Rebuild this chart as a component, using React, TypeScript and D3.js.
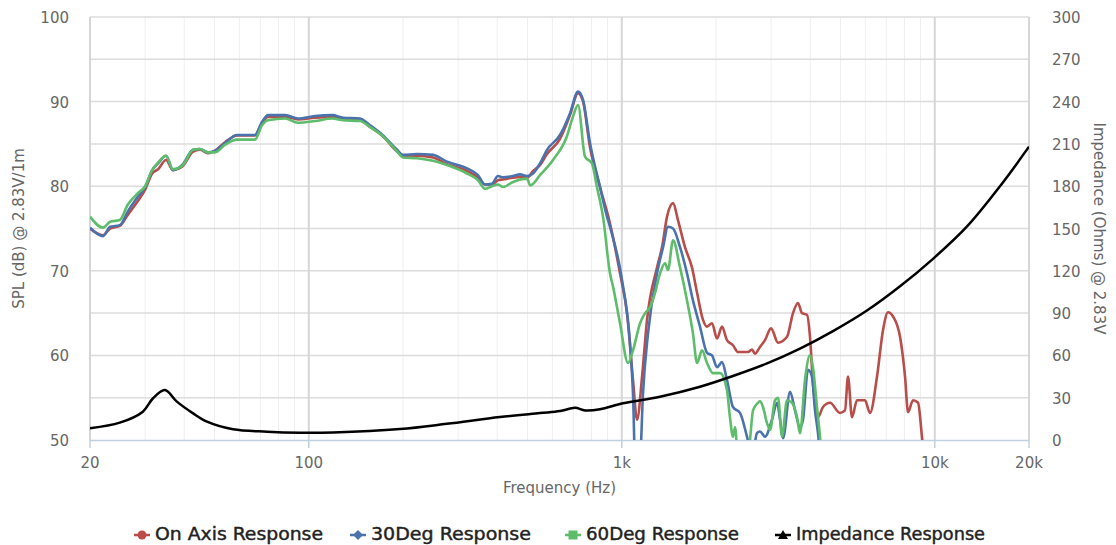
import { useEffect, useRef } from "react";
import * as d3 from "d3";

// [Hz, dB]
const onAxis: [number, number][] = [
  [20, 75.0], [22, 74.2], [23.2, 75.0], [24.9, 75.3], [26.4, 76.6], [28.5, 78.3],
  [30, 79.6], [31.6, 81.5], [33, 82.0], [35, 83.1], [36.8, 81.9], [39.4, 82.3],
  [42.7, 84.1], [44.9, 84.3], [47.6, 83.9], [50.2, 84.2], [54, 85.2], [59, 86.0],
  [67.3, 86.0], [70.9, 87.5], [74.1, 88.2], [84, 88.2], [92.4, 87.9], [104.7, 88.1],
  [118.7, 88.2], [128.7, 87.9], [145.8, 87.8], [156.9, 87.0], [172.7, 85.9],
  [191.4, 84.1], [200, 83.6], [221.7, 83.6], [249.4, 83.4], [276.4, 82.6],
  [320.4, 81.8], [347.2, 81.0], [365.6, 80.2], [384.9, 80.2], [402.4, 80.7],
  [417.4, 80.8], [449.2, 81.0], [473, 81.1], [498, 81.0], [520.5, 81.8], [548, 82.5],
  [577, 83.8], [634.8, 85.6], [683.2, 88.4], [724.8, 91.0], [752, 90.0], [791.5, 84.6],
  [852, 79.9], [917, 75.6], [987, 69.7], [1039, 65.0], [1086, 57.1], [1119, 52.4],
  [1161, 57.5], [1204, 64.2], [1296, 70.4], [1345, 72.8], [1395, 76.4], [1458, 78.0],
  [1512, 76.0], [1592, 72.8], [1676, 70.4], [1740, 67.4], [1818, 64.2], [1872, 63.4],
  [1942, 63.8], [2015, 62.0], [2090, 63.4], [2168, 61.8], [2266, 61.2], [2352, 60.4],
  [2530, 60.4], [2606, 60.7], [2664, 60.2], [2764, 61.0], [2868, 61.8], [2998, 63.2],
  [3157, 61.5], [3372, 62.2], [3524, 65.0], [3656, 66.2], [3765, 65.0], [3906, 64.8],
  [3993, 62.2], [4082, 56.7], [4235, 52.7], [4394, 53.9], [4626, 54.4], [4980, 53.2],
  [5167, 53.5], [5282, 57.5], [5439, 52.7], [5643, 54.7], [5984, 54.7], [6209, 53.2],
  [6539, 57.5], [6834, 63.0], [7091, 65.1], [7356, 64.6], [7745, 62.2], [8035, 57.5],
  [8214, 53.3], [8522, 54.7], [8842, 54.4], [9100, 50.4], [9300, 47],
];

const deg30: [number, number][] = [
  [20, 75.1], [22, 74.1], [23.2, 75.2], [24.9, 75.4], [26.4, 77.0], [28.5, 78.8],
  [30, 79.9], [31.6, 81.9], [33, 82.7], [35, 83.6], [36.8, 81.9], [39.4, 82.5],
  [42.7, 84.3], [44.9, 84.4], [47.6, 84.0], [50.2, 84.2], [54, 85.1], [59, 86.05],
  [67.3, 86.05], [70.9, 87.6], [74.1, 88.4], [84, 88.4], [92.4, 88.0], [104.7, 88.3],
  [118.7, 88.4], [128.7, 88.1], [145.8, 88.0], [156.9, 87.2], [172.7, 86.0],
  [191.4, 84.3], [200, 83.7], [221.7, 83.8], [249.4, 83.7], [276.4, 82.9],
  [320.4, 82.1], [347.2, 81.3], [365.6, 80.2], [384.9, 80.3], [402.4, 81.2],
  [417.4, 81.05], [449.2, 81.2], [473, 81.4], [498, 81.2], [520.5, 81.5], [548, 82.7],
  [577, 84.3], [634.8, 86.05], [683.2, 88.6], [724.8, 91.2], [752, 90.2], [791.5, 85.1],
  [852, 79.9], [897, 76.4], [917, 75.2], [1002, 68.9], [1062, 61.5], [1086, 55.5],
  [1110, 44], [1140, 46], [1169, 55.5], [1213, 62.6], [1296, 69.7], [1355, 72.8],
  [1405, 75.2], [1458, 75.0], [1535, 72.8], [1616, 69.7], [1688, 66.5], [1778, 63.4],
  [1872, 60.3], [1942, 60.0], [2015, 58.6], [2090, 59.2], [2168, 57.1], [2266, 53.9],
  [2386, 53.2], [2512, 50.4], [2606, 48], [2704, 50.8], [2764, 51.0], [2868, 50.4],
  [3020, 52.4], [3134, 54.4], [3204, 52.4], [3274, 50.2], [3449, 55.7], [3576, 53.5],
  [3710, 51.5], [3793, 52.4], [3935, 58.3], [4052, 57.5], [4143, 53.5], [4235, 50.8],
  [4300, 48],
];

const deg60: [number, number][] = [
  [20, 76.4], [22, 75.1], [23.2, 75.8], [24.9, 76.0], [26.4, 77.8], [28.5, 79.2],
  [30, 80.0], [31.6, 81.9], [33, 82.8], [35, 83.6], [36.8, 82.0], [39.4, 82.4],
  [42.7, 84.3], [44.9, 84.4], [47.6, 84.0], [50.2, 84.0], [54, 84.9], [59, 85.5],
  [67.3, 85.5], [70.9, 87.2], [74.1, 87.8], [84, 88.0], [92.4, 87.5], [104.7, 87.7],
  [118.7, 88.0], [128.7, 87.8], [145.8, 87.7], [156.9, 87.0], [172.7, 85.9],
  [191.4, 84.1], [200, 83.4], [221.7, 83.3], [249.4, 83.0], [276.4, 82.5],
  [320.4, 81.5], [347.2, 80.7], [365.6, 79.7], [384.9, 80.0], [402.4, 80.2],
  [417.4, 79.9], [449.2, 80.5], [498, 80.9], [510, 80.1], [548, 81.3], [603, 83.1],
  [668, 85.9], [698, 88.2], [724.8, 89.6], [763, 83.5], [803, 82.7], [833, 79.9],
  [871, 76.4], [917, 69.7], [938, 68.1], [987, 63.8], [1047, 59.1], [1086, 60.6],
  [1144, 63.8], [1187, 65.0], [1231, 65.7], [1277, 67.4], [1325, 69.7], [1375, 70.9],
  [1405, 70.1], [1458, 73.6], [1535, 70.4], [1616, 66.5], [1688, 62.6], [1740, 59.1],
  [1805, 60.6], [1872, 59.1], [1956, 57.9], [2060, 57.9], [2168, 55.9], [2216, 52.7],
  [2266, 50.4], [2300, 51.5], [2352, 48], [2500, 47], [2568, 50], [2626, 53.5],
  [2724, 54.4], [2764, 54.6], [2826, 53.9], [2911, 52.0], [2976, 51.2], [3088, 54.7],
  [3157, 55.0], [3251, 50.4], [3372, 54.7], [3499, 54.4], [3629, 52.7], [3710, 50.8],
  [3849, 57.1], [3993, 60.0], [4082, 58.6], [4204, 53.9], [4298, 50.4], [4350, 48],
];

// [Hz, Ohms]
const impedance: [number, number][] = [
  [20, 8.3], [24.9, 12.3], [29.5, 20.1], [31.8, 29.6], [34.7, 35.5], [37.9, 27.2],
  [42.7, 18.9], [47.3, 13.0], [57.3, 7.6], [73.6, 5.9], [93.8, 5.2], [119.5, 5.4],
  [195.6, 7.8], [276, 11.5], [408, 16.3], [548, 19.1], [635, 20.5], [709, 22.8],
  [763, 21.0], [852, 21.8], [1009, 26.0], [1325, 30.7], [1778, 37.8], [2266, 45.4],
  [2911, 54.3], [3710, 64.8], [4730, 77.2], [6072, 91.8], [7745, 109], [9870, 128.5],
  [12680, 151.5], [16157, 180], [20000, 208],
];

const xMajor = [20, 100, 1000, 10000, 20000];
const xMajorLabels = ["20", "100", "1k", "10k", "20k"];
const xMinor = [30, 40, 50, 60, 70, 80, 90, 200, 300, 400, 500, 600, 700, 800, 900,
  2000, 3000, 4000, 5000, 6000, 7000, 8000, 9000];
const splTicks = [50, 60, 70, 80, 90, 100];
const splGrid = [55, 60, 65, 70, 75, 80, 85, 90, 95, 100];
const ohmTicks = [0, 30, 60, 90, 120, 150, 180, 210, 240, 270, 300];

const seriesNames = ["On Axis Response", "30Deg Response", "60Deg Response", "Impedance Response"];
const seriesColors = ["#b84d4a", "#4a73ad", "#5dbd6a", "#000000"];
const legendX = [142, 358, 573, 783];
const legendWidths = [168, 160, 153, 189];

const W = 1116;
const H = 545;
const M = { left: 90, right: 87, top: 17, bottom: 105 };
const AXIS_FONT = "'DejaVu Sans', sans-serif";
const LEGEND_FONT = "'DejaVu Sans Condensed', 'Liberation Sans Narrow', 'DejaVu Sans', sans-serif";

export default function App() {
  const svgRef = useRef<SVGSVGElement>(null);

  useEffect(() => {
    document.body.style.margin = "0";
    const svg = d3.select(svgRef.current);
    svg.selectAll("*").remove();

    const x0 = M.left;
    const x1 = W - M.right;
    const y0 = H - M.bottom;
    const y1 = M.top;

    const x = d3.scaleLog().domain([20, 20000]).range([x0, x1]);
    const ySpl = d3.scaleLinear().domain([50, 100]).range([y0, y1]);
    const yOhm = d3.scaleLinear().domain([0, 300]).range([y0, y1]);

    svg.append("rect").attr("width", W).attr("height", H).attr("fill", "#fff");

    svg.append("defs").append("clipPath").attr("id", "plot-clip")
      .append("rect").attr("x", x0).attr("y", y1 - 2).attr("width", x1 - x0).attr("height", y0 - y1 + 2);

    const grid = svg.append("g");
    // minor vertical
    xMinor.forEach((f) => {
      grid.append("line")
        .attr("x1", x(f)).attr("x2", x(f)).attr("y1", y1).attr("y2", y0)
        .attr("stroke", "#efefef").attr("stroke-width", 1);
    });
    // horizontal
    splGrid.forEach((v) => {
      grid.append("line")
        .attr("x1", x0).attr("x2", x1).attr("y1", ySpl(v)).attr("y2", ySpl(v))
        .attr("stroke", "#dcdcdc").attr("stroke-width", 1.5);
    });
    // major vertical
    xMajor.forEach((f) => {
      grid.append("line")
        .attr("x1", x(f)).attr("x2", x(f)).attr("y1", y1).attr("y2", y0)
        .attr("stroke", "#d6d6d6").attr("stroke-width", 2);
    });

    // bottom axis line + ticks
    svg.append("line")
      .attr("x1", x0).attr("x2", x1).attr("y1", y0 + 0.5).attr("y2", y0 + 0.5)
      .attr("stroke", "#c0d0e0").attr("stroke-width", 1.5);
    xMajor.forEach((f, i) => {
      svg.append("line")
        .attr("x1", x(f)).attr("x2", x(f)).attr("y1", y0).attr("y2", y0 + 8)
        .attr("stroke", "#c0d0e0").attr("stroke-width", 1.5);
      svg.append("text")
        .attr("x", x(f)).attr("y", y0 + 28)
        .attr("text-anchor", "middle")
        .attr("font-family", AXIS_FONT).attr("font-size", 15).attr("fill", "#666")
        .text(xMajorLabels[i]);
    });

    splTicks.forEach((v) => {
      svg.append("text")
        .attr("x", 69).attr("y", ySpl(v) + 6)
        .attr("text-anchor", "end")
        .attr("font-family", AXIS_FONT).attr("font-size", 15).attr("fill", "#666")
        .text(v);
    });
    ohmTicks.forEach((v) => {
      svg.append("text")
        .attr("x", 1052).attr("y", yOhm(v) + 6)
        .attr("text-anchor", "start")
        .attr("font-family", AXIS_FONT).attr("font-size", 15).attr("fill", "#666")
        .text(v);
    });

    // axis titles
    svg.append("text")
      .attr("transform", `translate(24,${(y0 + y1) / 2}) rotate(-90)`)
      .attr("text-anchor", "middle")
      .attr("font-family", AXIS_FONT).attr("font-size", 15).attr("fill", "#666")
      .text("SPL (dB) @ 2.83V/1m");
    svg.append("text")
      .attr("transform", `translate(1094,${(y0 + y1) / 2}) rotate(90)`)
      .attr("text-anchor", "middle")
      .attr("font-family", AXIS_FONT).attr("font-size", 15).attr("fill", "#666")
      .text("Impedance (Ohms) @ 2.83V");
    svg.append("text")
      .attr("x", (x0 + x1) / 2).attr("y", y0 + 53)
      .attr("text-anchor", "middle")
      .attr("font-family", AXIS_FONT).attr("font-size", 15).attr("fill", "#666")
      .text("Frequency (Hz)");

    // series
    const plot = svg.append("g").attr("clip-path", "url(#plot-clip)");
    const splLine = d3.line<[number, number]>()
      .x((d) => x(d[0])).y((d) => ySpl(d[1])).curve(d3.curveMonotoneX);
    const ohmLine = d3.line<[number, number]>()
      .x((d) => x(d[0])).y((d) => yOhm(d[1])).curve(d3.curveCatmullRom.alpha(0.5));

    [onAxis, deg30, deg60].forEach((s, i) => {
      plot.append("path").attr("d", splLine(s)!)
        .attr("fill", "none").attr("stroke", seriesColors[i])
        .attr("stroke-width", 2.6).attr("stroke-linejoin", "round");
    });
    plot.append("path").attr("d", ohmLine(impedance)!)
      .attr("fill", "none").attr("stroke", seriesColors[3])
      .attr("stroke-width", 2.5).attr("stroke-linejoin", "round");

    // legend
    const ly = 535;
    legendX.forEach((lx, i) => {
      const g = svg.append("g");
      const c = seriesColors[i];
      g.append("line").attr("x1", lx - 8).attr("x2", lx + 8).attr("y1", ly).attr("y2", ly)
        .attr("stroke", c).attr("stroke-width", 2.5);
      if (i === 0) {
        g.append("circle").attr("cx", lx).attr("cy", ly).attr("r", 4.5).attr("fill", c);
      } else if (i === 1) {
        g.append("path").attr("d", `M${lx},${ly - 5}L${lx + 5},${ly}L${lx},${ly + 5}L${lx - 5},${ly}Z`).attr("fill", c);
      } else if (i === 2) {
        g.append("rect").attr("x", lx - 4.5).attr("y", ly - 4.5).attr("width", 9).attr("height", 9).attr("fill", c);
      } else {
        g.append("path").attr("d", `M${lx},${ly - 5}L${lx + 5},${ly + 4}L${lx - 5},${ly + 4}Z`).attr("fill", c);
      }
      g.append("text")
        .attr("x", lx + 13).attr("y", ly + 5)
        .attr("font-family", LEGEND_FONT).attr("font-size", 18)
        .attr("fill", "#222").attr("stroke", "#222").attr("stroke-width", 0.4)
        .attr("textLength", legendWidths[i]).attr("lengthAdjust", "spacingAndGlyphs")
        .text(seriesNames[i]);
    });
  }, []);

  return <svg ref={svgRef} width={W} height={H} style={{ display: "block" }} />;
}
